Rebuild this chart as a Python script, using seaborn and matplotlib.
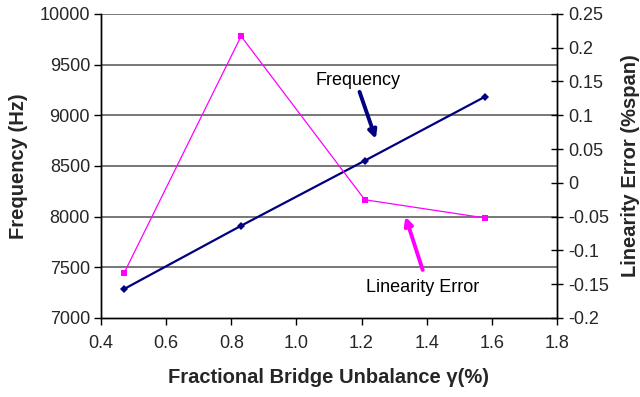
import matplotlib
matplotlib.use("Agg")
import matplotlib.pyplot as plt
import seaborn as sns
import pandas as pd

unbalance = [0.47, 0.83, 1.21, 1.58]
frequency = [7285, 7910, 8552, 9184]
linearity_error = [-0.134, 0.217, -0.025, -0.052]

sns.set_theme(style="white")
plt.rcParams['font.family'] = ['Liberation Sans', 'DejaVu Sans']

fig = plt.figure(figsize=(6.4, 3.97), dpi=100)
ax = fig.add_axes([0.158, 0.199, 0.712, 0.766])
ax2 = ax.twinx()

df = pd.DataFrame({"x": unbalance, "f": frequency, "e": linearity_error})

sns.lineplot(data=df, x="x", y="f", ax=ax, color="#000080", marker="D",
             markersize=4, linewidth=1.6, markeredgewidth=0, zorder=3)
sns.lineplot(data=df, x="x", y="e", ax=ax2, color="#FF00FF", marker="s",
             markersize=4.5, linewidth=0.9, markeredgewidth=0, zorder=3)

ax.set_xlim(0.4, 1.8)
ax.set_ylim(7000, 10000)
ax2.set_ylim(-0.2, 0.25)
ax.set_xticks([0.4, 0.6, 0.8, 1.0, 1.2, 1.4, 1.6, 1.8])
ax.set_xticklabels(["0.4", "0.6", "0.8", "1.0", "1.2", "1.4", "1.6", "1.8"])
ax.set_yticks(range(7000, 10001, 500))
ax2.set_yticks([-0.2, -0.15, -0.1, -0.05, 0, 0.05, 0.1, 0.15, 0.2, 0.25])
ax2.set_yticklabels(["-0.2", "-0.15", "-0.1", "-0.05", "0", "0.05", "0.1", "0.15", "0.2", "0.25"])

for y in range(7500, 10001, 500):
    ax.axhline(y, color="#606060", linewidth=1.2, zorder=1)

for a in (ax, ax2):
    for s in a.spines.values():
        s.set_color("black")
        s.set_linewidth(1.0)
    a.spines["top"].set_visible(False)

ax.tick_params(axis="y", direction="out", length=5, width=1, color="black",
               labelsize=13, pad=3, left=True)
ax.tick_params(axis="x", direction="out", length=5, width=1, color="black",
               labelsize=13, pad=7, bottom=True)
ax2.tick_params(axis="y", direction="inout", length=9, width=1, color="black",
                labelsize=13, pad=4, right=True)

ax.set_xlabel("Fractional Bridge Unbalance \u03b3(%)", fontsize=14.5, fontweight="bold", labelpad=12)
ax.set_ylabel("Frequency (Hz)", fontsize=14.5, fontweight="bold", labelpad=8)
ax2.set_ylabel("Linearity Error (%span)", fontsize=14.5, fontweight="bold", labelpad=8)

ax.text(1.19, 9340, "Frequency", fontsize=13, ha="center", va="center", color="black")
ax.annotate("", xy=(1.244, 8767), xytext=(1.194, 9231),
            arrowprops=dict(arrowstyle="-|>", color="#000080", lw=2.8,
                            mutation_scale=12, shrinkA=0, shrinkB=0))
ax.text(1.388, 7300, "Linearity Error", fontsize=13, ha="center", va="center", color="black")
ax.annotate("", xy=(1.335, 8000), xytext=(1.388, 7474),
            arrowprops=dict(arrowstyle="-|>", color="#FF00FF", lw=2.8,
                            mutation_scale=12, shrinkA=0, shrinkB=0))

ax.set_zorder(ax2.get_zorder() - 1)
ax.patch.set_visible(True)
ax2.patch.set_visible(False)

fig.savefig("out.png", dpi=100)
